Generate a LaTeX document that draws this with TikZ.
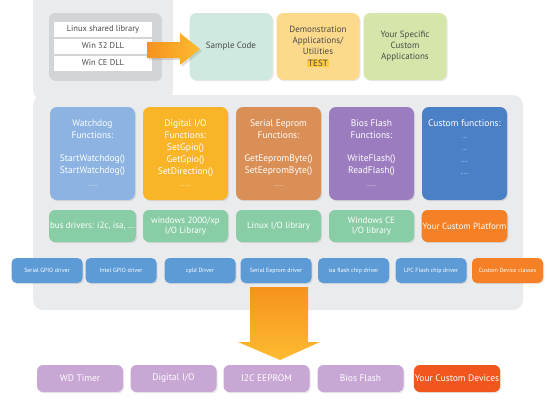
\documentclass[tikz,border=0pt]{standalone}
\usepackage{fontspec}
\setmainfont{PT Sans}
\usetikzlibrary{shadows}

\definecolor{panelgray}{HTML}{EAEBED}
\definecolor{stackgray}{HTML}{D3D4D6}
\definecolor{textgray}{HTML}{4A4A4A}
\definecolor{sampleteal}{HTML}{CFE9E1}
\definecolor{demoorange}{HTML}{FDD98C}
\definecolor{testyellow}{HTML}{FDCB3C}
\definecolor{specgreen}{HTML}{D6E5A9}
\definecolor{wdblue}{HTML}{8CB3E2}
\definecolor{dioamber}{HTML}{F9B527}
\definecolor{eepbrown}{HTML}{DA8F57}
\definecolor{biospurple}{HTML}{9B7CBF}
\definecolor{custblue}{HTML}{4B7FC6}
\definecolor{libgreen}{HTML}{88CDA5}
\definecolor{platorange}{HTML}{F58025}
\definecolor{drvblue}{HTML}{5C9BD6}
\definecolor{devpurple}{HTML}{C8A7D5}
\definecolor{devred}{HTML}{F1561E}
\definecolor{arrowdark}{HTML}{F6921E}
\definecolor{arrowlight}{HTML}{FDBB30}

\begin{document}
\begin{tikzpicture}[x=1pt,y=-1pt,
    box/.style={rounded corners=7pt, align=center, inner sep=1pt,
        drop shadow={opacity=0.18,shadow xshift=1.2pt,shadow yshift=-1.2pt}},
    topbox/.style={box, minimum width=83pt, minimum height=67pt, text=textgray,
        font=\fontsize{9}{11}\selectfont},
    funcbox/.style={box, minimum width=85pt, minimum height=93pt, text=white,
        font=\fontsize{9.5}{12}\selectfont},
    libbox/.style={box, rounded corners=6pt, minimum width=85pt, minimum height=32pt,
        text=white, font=\fontsize{9}{10.5}\selectfont},
    drvbox/.style={box, rounded corners=5pt, minimum width=71pt, minimum height=25pt,
        fill=drvblue, text=white, font=\fontsize{6}{7}\selectfont},
    devbox/.style={box, rounded corners=6pt, minimum width=86pt, minimum height=27pt,
        fill=devpurple, text=white, font=\fontsize{9.5}{11}\selectfont},
    dllbar/.style={fill=white, minimum width=98pt, minimum height=15pt, inner sep=0pt,
        text=textgray, font=\fontsize{8.5}{10}\selectfont}
]
    \useasboundingbox (0,0) rectangle (550,400);
    \newcommand{\fdots}[1]{{\fontsize{6}{6}\selectfont #1}}

    % background panels
    \fill[panelgray, rounded corners=10pt] (33,-12) rectangle (173,100);
    \fill[panelgray, rounded corners=10pt] (33,95) rectangle (523,310);

    % libraries on top
    \begin{scope}
        \node[box, fill=stackgray, rounded corners=6pt, minimum width=112pt,
            minimum height=67pt] (dllstack) at (105,46.5) {};
        \node[dllbar] (linuxlib) at (103,29) {Linux shared library};
        \node[dllbar] (win32dll) at (103,46) {Win 32 DLL};
        \node[dllbar] (wincedll) at (103,63) {Win CE DLL};

        \node[topbox, fill=sampleteal] (sample) at (231,46.5) {Sample Code};
        \node[topbox, fill=demoorange] (demo) at (318,46.5)
            {Demonstration\\Applications/\\Utilities\\[1pt]
             \setlength{\fboxsep}{1pt}\colorbox{testyellow}{\makebox[20pt]{TEST}}};
        \node[topbox, fill=specgreen] (specapps) at (405,46.5)
            {Your Specific\\Custom\\Applications};

        \shade[left color=arrowdark, right color=arrowlight,
            drop shadow={opacity=0.25,shadow xshift=2pt,shadow yshift=-2pt}]
            (147,42) -- (180,42) -- (180,33) -- (200,49) -- (180,65)
            -- (180,58) -- (147,58) -- cycle;
    \end{scope}

    % function blocks
    \begin{scope}
        \node[funcbox, fill=wdblue] (wdfunc) at (92.5,153.5)
            {Watchdog\\Functions:\\[11pt]StartWatchdog()\\StartWatchdog()\\[1pt]\fdots{......}};
        \node[funcbox, fill=dioamber] (diofunc) at (185.5,153.5)
            {Digital I/O\\Functions:\\SetGpio()\\GetGpio()\\SetDirection()\\\fdots{.......}};
        \node[funcbox, fill=eepbrown] (eepfunc) at (278.5,153.5)
            {Serial Eeprom\\Functions:\\[11pt]GetEepromByte()\\SetEepromByte()\\[1pt]\fdots{......}};
        \node[funcbox, fill=biospurple] (biosfunc) at (371.5,153.5)
            {Bios Flash\\Functions:\\[11pt]WriteFlash()\\ReadFlash()\\[1pt]\fdots{......}};
        \node[funcbox, fill=custblue] (custfunc) at (464.5,153.5)
            {Custom functions:\\\fdots{...}\\\fdots{...}\\\fdots{....}\\\fdots{.....}\\~};
    \end{scope}

    % platform libraries
    \begin{scope}
        \node[libbox, fill=libgreen] (buslib) at (92.5,226) {bus drivers: i2c, isa, ...};
        \node[libbox, fill=libgreen] (winxplib) at (185.5,226) {windows 2000/xp\\I/O Library};
        \node[libbox, fill=libgreen] (linuxio) at (278.5,226) {Linux I/O library};
        \node[libbox, fill=libgreen] (winceio) at (371.5,226) {Windows CE\\I/O library};
        \node[libbox, fill=platorange] (custplat) at (464.5,226) {Your Custom Platform};
    \end{scope}

    % drivers
    \node[drvbox] (sergpio) at (47,270.5) {Serial GPIO driver};
    \node[drvbox] (intelgpio) at (121,270.5) {Intel GPIO driver};
    \node[drvbox] (cpld) at (200,270.5) {cpld Driver};
    \node[drvbox] (sereep) at (276,270.5) {Serial Eeprom driver};
    \node[drvbox] (isaflash) at (353.5,270.5) {isa flash chip driver};
    \node[drvbox] (lpcflash) at (431,270.5) {LPC Flash chip driver};
    \node[drvbox, fill=platorange] (custdev) at (507.5,270.5) {Custom Device classes};

    \shade[top color=arrowdark, bottom color=arrowlight]
        (250,287) -- (308,287) -- (308,342) -- (320,342) -- (280,360)
        -- (238,342) -- (250,342) -- cycle;

    % devices
    \node[devbox] (wdtimer) at (80,378.5) {WD Timer};
    \node[devbox] (digio) at (173.5,378.5) {Digital I/O};
    \node[devbox] (i2ceep) at (266.5,378.5) {I2C EEPROM};
    \node[devbox] (biosflash) at (360.5,378.5) {Bios Flash};
    \node[devbox, fill=devred] (custdevices) at (457,378.5) {Your Custom Devices};
\end{tikzpicture}
\end{document}
